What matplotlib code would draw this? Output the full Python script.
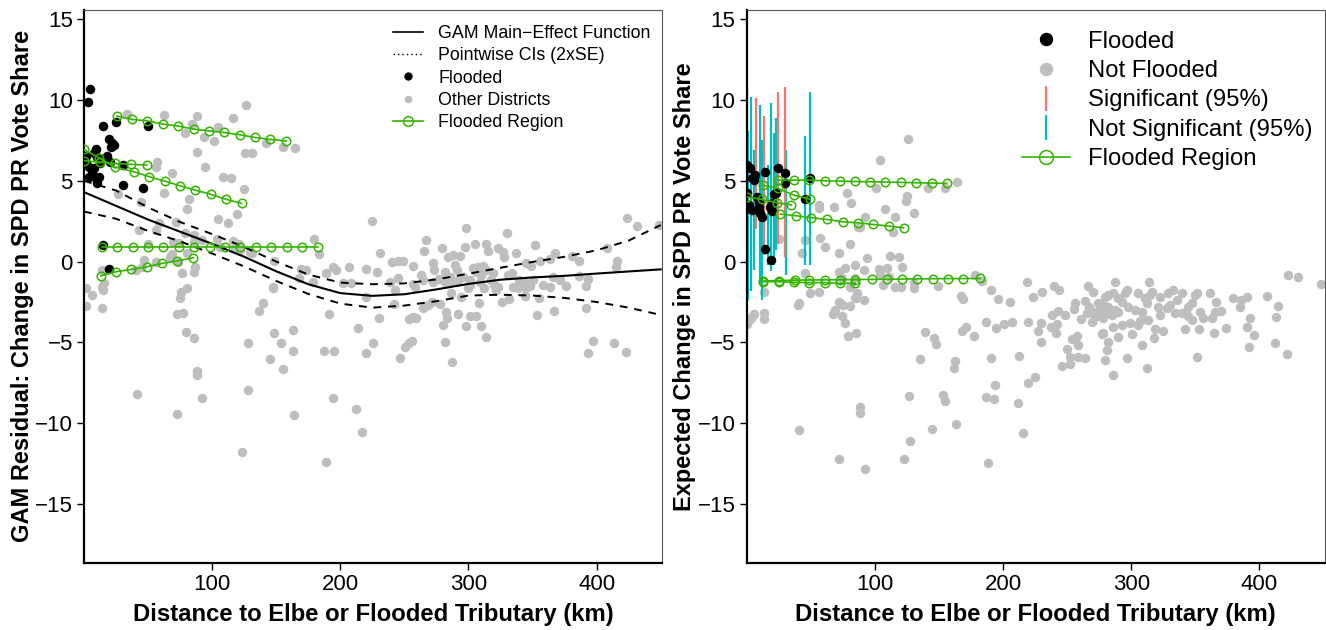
import matplotlib
matplotlib.use("Agg")
import matplotlib.pyplot as plt
from matplotlib.lines import Line2D
import numpy as np

plt.rcParams['font.family'] = ['Liberation Sans', 'DejaVu Sans']

# ---------------- Left panel data ----------------
left_gray_x = [126.3, 33.8, 62.5, 88.5, 116.4, 78.9, 84.6, 93.8, 101.6, 104.9, 142.0, 155.5, 164.8, 125.5, 130.7,
               88.5, 57.3, 56.5, 94.3, 69.0, 108.6, 114.8, 125.0, 62.5, 26.6, 44.3, 82.0, 80.7, 104.9, 119.0,
               112.7, 58.6, 56.0, 43.0, 71.6, 78.9, 85.9, 85.9, 69.5, 74.2, 50.0, 68.5, 80.7, 92.4, 121.1,
               115.9, 131.0, 148.4, 179.1, 183.6, 169.3, 173.2, 178.4, 168.0, 188.8, 194.0, 196.6, 201.8, 208.4, 206.5,
               46.9, 45.5, 56.0, 40.9, 73.4, 86.7, 85.9, 76.8, 80.7, 75.5, 75.2, 13.8, 13.8, 15.6, 1.3,
               6.5, 147.1, 103.4, 106.5, 117.7, 121.6, 129.5, 224.5, 231.0, 67.4, 56.5, 1.8, 14.3, 14.8, 72.9,
               77.3, 147.7, 139.8, 136.5, 191.4, 79.9, 85.7, 148.4, 153.7, 162.7, 163.3, 127.6, 145.1, 155.5, 187.3,
               195.1, 213.5, 225.8, 220.1, 88.3, 88.3, 128.1, 41.4, 92.4, 72.7, 164.1, 194.5, 212.3, 217.2, 122.9,
               189.1, 220.1, 228.4, 220.1, 230.5, 298.2, 330.2, 266.9, 265.6, 279.5, 296.9, 304.7, 313.3, 315.1, 322.9,
               326.8, 328.1, 337.3, 352.1, 367.2, 363.3, 355.5, 381.0, 386.2, 408.0, 415.9, 414.8, 423.7, 431.5, 449.0,
               240.4, 244.8, 248.7, 256.5, 272.1, 273.4, 283.8, 287.7, 293.0, 282.0, 290.9, 289.1, 303.4, 307.3, 311.2,
               306.0, 313.8, 309.9, 319.0, 330.7, 334.1, 345.1, 349.0, 263.0, 264.3, 272.1, 277.3, 281.3, 285.2, 286.5,
               291.6, 295.5, 238.8, 244.8, 256.5, 258.6, 243.0, 300.8, 308.6, 317.7, 320.3, 322.9, 312.5, 321.6, 299.5,
               300.8, 286.5, 294.3, 339.8, 343.8, 347.7, 350.2, 334.6, 338.5, 345.1, 358.0, 363.3, 365.9, 371.1, 375.8,
               386.2, 393.2, 391.4, 343.8, 354.7, 242.2, 264.3, 268.2, 271.6, 278.1, 253.4, 256.5, 259.1, 282.6, 283.0,
               279.9, 291.6, 301.3, 306.0, 297.7, 309.4, 308.0, 326.3, 332.0, 353.4, 366.6, 392.0, 313.8, 282.0, 256.0,
               253.4, 250.8, 246.9, 287.3, 397.1, 393.2, 413.5, 422.7]
left_gray_y = [9.68, 9.11, 9.06, 9.02, 8.90, 7.93, 8.51, 7.72, 7.46, 8.34, 7.35, 7.10, 7.04, 6.73, 6.73,
               6.79, 6.18, 5.87, 5.83, 5.46, 5.25, 5.15, 4.51, 4.26, 4.16, 3.70, 3.87, 3.23, 2.63, 2.94,
               2.37, 2.37, 1.95, 1.95, 2.46, 1.78, 1.64, 1.23, 1.23, 1.13, 1.09, 0.45, 0.51, 1.33, 1.07,
               1.27, 0.55, 0.05, 1.38, 0.47, -0.46, -0.52, -1.25, -1.04, -0.73, -0.32, -0.52, -1.34, -1.34, -0.32,
               0.10, -0.32, -0.01, -0.52, -0.01, -0.32, -0.63, -0.73, -1.65, -1.86, -2.27, -0.52, -1.55, -1.34, -1.65,
               -2.07, -1.65, 1.38, 0.92, 0.82, 0.71, 0.61, 2.53, 0.55, 0.30, -0.05, -2.75, -2.89, -1.76, -3.26,
               -3.16, -1.59, -2.58, -3.04, -3.24, -4.38, -4.75, -4.44, -5.02, -4.23, -5.51, -5.05, -6.04, -6.64, -5.53,
               -5.53, -4.09, -5.05, -5.67, -6.75, -7.02, -7.94, -8.21, -8.46, -9.45, -9.49, -8.42, -9.14, -10.56, -11.76,
               -12.40, -0.46, -0.66, -2.21, -3.51, 2.06, 1.78, 1.33, 0.67, 0.82, 0.92, 1.09, 1.07, 0.67, 0.82,
               0.61, 0.26, 0.51, 1.02, 0.55, 0.14, 0.05, 0.34, 0.05, 0.82, 0.05, -0.36, 2.68, 2.20, 2.26,
               -0.01, 0.05, 0.03, -0.26, -0.11, -0.52, 0.30, 0.41, 0.34, -0.63, -0.52, -0.21, -0.42, -0.36, -0.27,
               -0.63, -0.52, -0.83, -0.73, -0.83, -0.69, -0.11, -0.27, -0.83, -1.14, -1.25, -1.10, -1.25, -0.94, -1.25,
               -1.14, -0.94, -1.25, -1.04, -1.39, -1.59, -1.76, -1.14, -1.25, -1.14, -1.45, -1.55, -1.65, -1.76, -1.65,
               -1.45, -1.96, -2.21, -1.14, -1.34, -1.51, -1.14, -1.55, -1.65, -1.65, -1.45, -1.55, -0.97, -1.14, -1.51,
               -0.87, -1.10, -1.51, -2.13, -2.27, -2.62, -2.89, -2.69, -2.48, -2.62, -3.57, -3.45, -3.51, -3.10, -3.47,
               -3.92, -3.26, -3.37, -3.37, -3.98, -3.96, -2.54, -2.48, -2.33, -3.30, -3.06, -2.85, -4.65, -5.00, -4.89,
               -5.05, -5.27, -5.98, -6.21, -4.89, -5.64, -5.02, -5.61]

left_flood_x = [4.7, 3.1, 14.8, 25.2, 50.0, 19.5, 22.1, 23.4, 20.9, 9.1, 7.8, 10.4, 1.3, 18.2, 20.1,
                12.3, 14.3, 1.3, 3.9, 7.8, 6.5, 3.9, 11.7, 9.1, 10.4, 30.7, 30.7, 46.3, 14.8, 19.5]
left_flood_y = [10.71, 9.85, 8.40, 8.61, 8.38, 7.56, 7.31, 7.21, 7.10, 6.94, 6.69, 6.45, 6.53, 6.53, 6.18,
                6.11, 6.32, 6.08, 5.87, 5.77, 5.46, 5.25, 5.25, 5.15, 4.88, 5.97, 4.73, 4.57, 1.02, -0.48]

gam_x = [0, 25, 50, 75, 100, 125, 150, 175, 200, 225, 250, 275, 300, 325, 350, 375, 400, 425, 450]
gam_fit = [4.3, 3.45, 2.6, 1.85, 1.1, 0.3, -0.6, -1.4, -1.95, -2.12, -2.02, -1.72, -1.38, -1.12, -0.98,
           -0.88, -0.74, -0.61, -0.48]
gam_upper = [5.0, 4.4, 3.35, 2.45, 1.7, 0.9, 0.0, -0.8, -1.3, -1.4, -1.35, -1.1, -0.75, -0.38, -0.02,
             0.3, 0.7, 1.3, 2.26]
gam_lower = [3.1, 2.65, 1.9, 1.25, 0.5, -0.3, -1.2, -2.0, -2.6, -2.85, -2.72, -2.45, -2.1, -2.05, -2.1,
             -2.25, -2.5, -2.85, -3.3]

left_region_x = [
    [25.6, 37.3, 49.5, 61.5, 73.2, 85.5, 97.5, 109.2, 121.5, 133.5, 145.5, 158.0],
    [0.0, 12.0, 24.0, 39.0, 51.0, 63.0, 75.0, 87.0, 99.0, 111.0, 123.0],
    [0.0, 12.3, 24.5, 36.5, 49.0],
    [13.8, 25.8, 37.9, 49.9, 61.9, 73.9, 86.0, 98.0, 110.0, 122.1, 134.1, 146.1, 158.1, 170.2, 182.2],
    [13.0, 24.8, 37.0, 49.0, 61.2, 72.9, 85.4],
]
left_region_y = [
    [9.00, 8.80, 8.71, 8.51, 8.39, 8.20, 8.09, 7.99, 7.85, 7.68, 7.56, 7.46],
    [6.94, 6.40, 5.85, 5.56, 5.25, 4.98, 4.69, 4.42, 4.16, 3.85, 3.60],
    [6.25, 6.15, 6.08, 6.02, 5.97],
    [0.92, 0.92, 0.92, 0.92, 0.92, 0.92, 0.92, 0.92, 0.92, 0.92, 0.92, 0.92, 0.92, 0.92, 0.92],
    [-0.89, -0.63, -0.48, -0.32, -0.11, 0.05, 0.24],
]

# ---------------- Right panel data ----------------
right_gray_x = [125.7, 104.2, 100.8, 141.1, 154.9, 163.9, 124.9, 124.2, 107.6, 115.9, 130.4, 92.5, 88.6, 113.8, 93.8,
                112.0, 118.5, 121.0, 91.2, 102.9, 104.2, 111.2, 106.0, 115.9, 120.6, 130.9, 130.2, 148.9, 178.2, 183.4,
                190.7, 167.0, 169.1, 196.4, 205.5, 219.0, 230.2, 223.1, 239.8, 244.0, 266.0, 270.5, 279.6, 256.2, 264.0,
                267.1, 274.3, 255.6, 243.2, 248.4, 237.9, 260.9, 269.1, 271.8, 265.2, 139.3, 146.5, 147.9, 167.8, 170.9,
                177.7, 187.1, 194.3, 201.1, 206.8, 219.2, 229.7, 227.6, 237.5, 241.4, 241.9, 229.7, 253.5, 257.4, 258.8,
                249.6, 252.3, 258.2, 264.0, 245.7, 252.3, 279.6, 280.8, 278.2, 135.4, 162.7, 161.9, 190.7, 212.5, 225.0,
                219.2, 193.8, 186.8, 193.3, 211.5, 127.0, 153.0, 154.9, 88.6, 88.6, 163.4, 144.4, 127.6, 215.9, 122.4,
                188.1, 92.0, 78.2, 81.6, 56.1, 56.1, 67.8, 86.5, 25.5, 45.8, 57.4, 61.3, 71.7, 80.3, 43.1,
                109.3, 45.8, 40.0, 49.6, 56.1, 71.7, 76.9, 84.7, 74.3, 84.7, 13.2, 4.1, 13.2, 71.7, 74.8,
                68.6, 74.3, 84.7, 91.2, 40.5, 80.3, 86.3, 85.0, 73.8, 80.3, 67.3, 76.9, 5.7, 2.3, 0.5,
                13.5, 79.0, 85.0, 40.8, 71.9, 287.4, 314.1, 296.4, 295.2, 305.0, 282.1, 286.0, 289.9, 292.5, 278.2,
                282.1, 287.4, 270.5, 275.7, 280.8, 284.7, 289.9, 278.2, 297.7, 302.9, 308.1, 312.0, 314.6, 310.7, 315.9,
                322.4, 328.9, 332.8, 321.1, 327.6, 330.2, 335.4, 339.3, 322.4, 334.1, 339.3, 344.5, 347.1, 349.7, 351.0,
                344.5, 347.1, 353.6, 356.2, 361.4, 362.7, 365.3, 366.1, 370.0, 292.5, 299.1, 286.0, 289.9, 305.5, 306.8,
                309.4, 313.3, 276.9, 281.6, 300.3, 308.1, 318.0, 318.5, 325.0, 341.9, 353.1, 364.8, 373.6, 379.6, 385.6,
                390.7, 384.8, 392.6, 390.7, 395.7, 392.0, 406.3, 414.6, 413.3, 412.1, 421.7, 422.4, 430.2, 448.4, 296.4,
                286.0, 312.5, 351.5]
right_gray_y = [7.58, 6.28, 4.57, 4.53, 4.57, 4.92, 4.05, 3.74, 3.23, 2.77, 2.98, 2.74, 2.12, 1.85, 0.20,
                0.34, 0.26, -0.36, -0.52, -0.48, -0.77, -0.94, -1.45, -1.55, -1.59, -1.65, -1.31, -1.51, -0.83, -1.20,
                -1.76, -2.13, -2.32, -2.32, -2.48, -1.25, -1.90, -2.17, -1.49, -1.76, -1.49, -1.86, -2.17, -2.54, -2.42,
                -2.79, -2.58, -2.93, -3.04, -3.30, -3.30, -3.55, -3.72, -3.41, -3.20, -4.34, -4.75, -5.10, -4.28, -4.07,
                -4.60, -3.72, -4.13, -3.86, -3.76, -3.72, -3.78, -4.28, -4.07, -4.44, -3.86, -4.96, -4.81, -4.60, -5.16,
                -5.43, -5.92, -5.92, -5.96, -6.46, -6.35, -6.09, -5.47, -4.44, -6.04, -6.15, -6.56, -5.95, -5.84, -7.12,
                -7.53, -7.63, -8.36, -8.50, -8.77, -8.31, -8.25, -8.62, -8.98, -9.35, -10.06, -10.37, -11.10, -10.62, -12.21,
                -12.44, -12.85, 4.26, 3.60, 3.50, 3.29, 3.36, 2.16, 1.38, 1.33, 1.44, 0.92, 0.51, 1.09, 0.51,
                -0.42, -0.73, -2.69, -1.96, -1.86, -0.63, -0.42, -0.21, -1.04, -1.04, -1.86, -3.41, -3.20, -2.48, -2.69,
                -3.00, -3.37, -2.27, -2.38, -2.58, -1.55, -1.93, -2.24, -2.62, -2.75, -3.26, -3.78, -3.26, -3.57, -3.88,
                -3.55, -4.60, -4.44, -10.44, -12.23, -1.28, -1.28, -1.76, -1.96, -1.96, -2.07, -1.96, -2.27, -2.48, -2.69,
                -2.79, -3.00, -3.10, -3.00, -3.20, -3.30, -3.10, -3.51, -2.79, -3.00, -3.10, -2.58, -2.07, -2.27, -1.86,
                -2.17, -1.96, -1.76, -2.79, -2.89, -2.69, -2.38, -1.96, -3.30, -3.20, -3.16, -2.79, -2.58, -2.07, -1.96,
                -3.37, -3.61, -3.10, -3.51, -1.96, -3.51, -3.10, -2.48, -3.04, -3.92, -3.78, -4.07, -4.65, -3.92, -3.66,
                -3.57, -3.61, -4.48, -4.96, -4.48, -5.16, -4.75, -4.19, -4.29, -4.17, -4.17, -4.44, -4.09, -2.27, -2.38,
                -2.17, -2.79, -3.51, -4.03, -4.54, -5.27, -2.11, -2.75, -3.41, -5.05, -5.73, -0.83, -0.94, -1.39, -5.95,
                -7.02, -6.56, -5.88]

right_flood_x = [0.2, 2.9, 6.8, 4.1, 5.5, 14.6, 24.4, 30.2, 30.2, 49.1, 0.5, 8.0, 9.9, 1.6, 4.1,
                 9.4, 10.7, 11.9, 19.7, 21.0, 22.8, 18.5, 19.7, 45.8, 14.6, 18.9]
right_flood_y = [6.00, 5.77, 5.35, 5.15, 5.04, 5.52, 5.80, 5.46, 4.88, 5.15, 4.22, 3.97, 3.70, 3.50, 3.19,
                 3.36, 2.98, 2.77, 3.64, 4.18, 4.26, 3.39, 3.15, 3.85, 0.78, 0.10]

ci_x = [0.2, 0.8, 3.7, 7.3, 5.5, 10.7, 13.8, 19.3, 21.0, 22.8, 24.2, 30.2, 30.8, 45.8, 49.1, 11.7, 16.4]
ci_lo = [0.7, -2.4, -1.8, 2.0, -0.5, -1.3, 0.4, -0.6, -0.2, 0.7, 1.1, 0.3, -0.8, -0.2, -0.2, -2.4, -0.2]
ci_hi = [10.8, 8.1, 10.2, 10.1, 6.9, 9.7, 9.0, 9.8, 7.95, 8.9, 10.5, 10.8, 6.9, 7.8, 10.5, 7.5, 6.0]
ci_sig = [True, False, False, True, False, False, True, False, False, False, True, True, False, False, False, False, False]

right_region_x = [
    [24.4, 36.6, 48.3, 60.8, 72.5, 84.2, 96.4, 108.1, 120.3, 132.3, 144.4, 156.1],
    [12.5, 24.4, 36.6, 49.6],
    [0.0, 11.7, 23.6, 34.8],
    [26.3, 38.4, 50.4, 62.6, 74.8, 86.7, 98.4, 110.7, 122.4],
    [12.5, 24.9, 37.4, 48.9, 60.8, 72.5, 84.7, 97.7, 109.4, 121.0, 132.7, 145.0, 156.9, 169.1, 182.1],
    [12.5, 24.9, 36.6, 48.9, 60.8, 72.5, 84.7],
]
right_region_y = [
    [5.04, 5.04, 5.04, 5.00, 4.98, 4.96, 4.94, 4.92, 4.90, 4.88, 4.86, 4.84],
    [4.73, 4.53, 4.12, 3.85],
    [4.00, 3.85, 3.64, 3.50],
    [2.94, 2.84, 2.71, 2.61, 2.46, 2.40, 2.30, 2.20, 2.09],
    [-1.20, -1.17, -1.15, -1.14, -1.13, -1.12, -1.11, -1.10, -1.09, -1.08, -1.07, -1.06, -1.05, -1.05, -1.04],
    [-1.24, -1.24, -1.28, -1.30, -1.30, -1.34, -1.34],
]

xticks = [100, 200, 300, 400]
yticks = [-15, -10, -5, 0, 5, 10, 15]
xlabel = "Distance to Elbe or Flooded Tributary (km)"
ylabel_left = "GAM Residual: Change in SPD PR Vote Share"
ylabel_right = "Expected Change in SPD PR Vote Share"

GRAY = "#BEBEBE"
GREEN = "#33B500"
RED = "#F8766D"
CYAN = "#00BFC4"

W, H = 1326, 630
fig = plt.figure(figsize=(W / 100, H / 100), dpi=100)
axL = fig.add_axes([84 / W, 1 - 563 / H, 578 / W, 553.5 / H])
axR = fig.add_axes([746.7 / W, 1 - 563 / H, 578 / W, 553.5 / H])

PT = 72 / 100  # points per pixel
msz = 9.5 * PT


def style(ax, ylabel):
    ax.set_xlim(0, 451)
    ax.set_ylim(-18.65, 15.6)
    ax.set_xticks(xticks)
    ax.set_yticks(yticks)
    ax.set_yticklabels([str(v).replace('-', '\u2212') for v in yticks])
    ax.tick_params(axis='both', direction='out', length=5, width=1, labelsize=16, pad=3, colors='black')
    for s in ['top', 'right']:
        ax.spines[s].set_color('#555555')
        ax.spines[s].set_linewidth(0.8)
    for s in ['left', 'bottom']:
        ax.spines[s].set_color('black')
        ax.spines[s].set_linewidth(1.6)
    ax.set_xlabel(xlabel, fontsize=17.2, fontweight='bold', labelpad=6)
    ax.set_ylabel(ylabel, fontsize=17, fontweight='bold', labelpad=1)


# ---- left panel ----
axL.plot(left_gray_x, left_gray_y, 'o', color=GRAY, ms=msz, mec='none', zorder=1)
axL.plot(gam_x, gam_fit, '-', color='black', lw=1.5, zorder=2)
axL.plot(gam_x, gam_upper, '--', color='black', lw=1.4, dashes=(4, 3.5), zorder=2)
axL.plot(gam_x, gam_lower, '--', color='black', lw=1.4, dashes=(4, 3.5), zorder=2)
axL.plot(left_flood_x, left_flood_y, 'o', color='black', ms=msz, mec='none', zorder=3)
for xs, ys in zip(left_region_x, left_region_y):
    axL.plot(xs, ys, '-o', color=GREEN, lw=1.2, ms=8.5 * PT, mfc='none', mec=GREEN, mew=1.1, zorder=4)
style(axL, ylabel_left)

hL = [Line2D([], [], color='black', lw=1.2),
      Line2D([], [], color='black', lw=1.0, ls=(0, (1, 2.2))),
      Line2D([], [], ls='none', marker='o', color='black', ms=5),
      Line2D([], [], ls='none', marker='o', color=GRAY, ms=4.5),
      Line2D([], [], color=GREEN, lw=1.2, marker='o', mfc='none', mec=GREEN, ms=7, mew=1.1)]
legL = axL.legend(hL, ["GAM Main\u2212Effect Function", "Pointwise CIs (2xSE)", "Flooded",
                       "Other Districts", "Flooded Region"],
                  loc='upper left', bbox_to_anchor=(0.535, 0.972), frameon=False, fontsize=12.75,
                  handlelength=1.7, handletextpad=0.85, labelspacing=0.3, borderaxespad=0, borderpad=0)

# ---- right panel ----
axR.plot(right_gray_x, right_gray_y, 'o', color=GRAY, ms=msz, mec='none', zorder=1)
ci_x_arr = np.array(ci_x)
ci_sig_arr = np.array(ci_sig)
axR.vlines(ci_x_arr[~ci_sig_arr], np.array(ci_lo)[~ci_sig_arr], np.array(ci_hi)[~ci_sig_arr],
           color=CYAN, lw=1.6, zorder=2)
axR.vlines(ci_x_arr[ci_sig_arr], np.array(ci_lo)[ci_sig_arr], np.array(ci_hi)[ci_sig_arr],
           color=RED, lw=1.6, zorder=2)
axR.plot(right_flood_x, right_flood_y, 'o', color='black', ms=msz, mec='none', zorder=3)
for xs, ys in zip(right_region_x, right_region_y):
    axR.plot(xs, ys, '-o', color=GREEN, lw=1.2, ms=8.5 * PT, mfc='none', mec=GREEN, mew=1.1, zorder=4)
style(axR, ylabel_right)

hR = [Line2D([], [], ls='none', marker='o', color='black', ms=12 * PT),
      Line2D([], [], ls='none', marker='o', color=GRAY, ms=12 * PT),
      Line2D([], [], ls='none', marker='|', color=RED, ms=18, mew=1.6),
      Line2D([], [], ls='none', marker='|', color=CYAN, ms=18, mew=1.6),
      Line2D([], [], color=GREEN, lw=1.2, marker='o', mfc='none', mec=GREEN, ms=10, mew=1.1)]
legR = axR.legend(hR, ["Flooded", "Not Flooded", "Significant (95%)", "Not Significant (95%)",
                       "Flooded Region"],
                  loc='upper left', bbox_to_anchor=(0.476, 0.962), frameon=False, fontsize=17.2,
                  handlelength=2.0, handletextpad=0.75, labelspacing=0.31, borderaxespad=0, borderpad=0)

fig.savefig("out.png", dpi=100)
